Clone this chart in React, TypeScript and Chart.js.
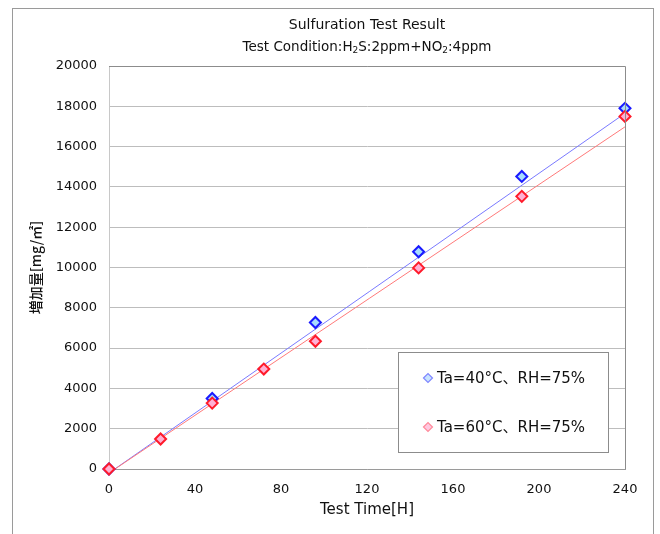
import React, { useEffect, useRef } from 'react';
import { Chart, registerables } from 'chart.js';

Chart.register(...registerables);

// ---- data ----
const hours40 = [0, 48, 96, 144, 192, 240];
const gain40 = [0, 3500, 7270, 10780, 14520, 17900];
const hours60 = [0, 24, 48, 72, 96, 144, 192, 240];
const gain60 = [0, 1490, 3270, 4960, 6340, 9980, 13530, 17500];
const trendHours = [0, 240];
const trend40 = [-200, 17650];
const trend60 = [-200, 16980];
const seriesLabels = ['Ta=40°C、RH=75%', 'Ta=60°C、RH=75%'];
const titleLine1 = 'Sulfuration Test Result';
// segments: [text, isSubscript]
const titleLine2: [string, boolean][] = [
  ['Test Condition:H', false],
  ['2', true],
  ['S:2ppm+NO', false],
  ['2', true],
  [':4ppm', false],
];
const yTitle = '増加量[mg/㎡]';
const xTitle = 'Test Time[H]';
const yMin = 0, yMax = 20000, yStep = 2000;
const xMin = 0, xMax = 240, xStep = 40;

const FONT = '"DejaVu Sans", "Noto Sans CJK JP", sans-serif';
const CJK = '"Noto Sans CJK JP", "DejaVu Sans", sans-serif';

const pts = (xs: number[], ys: number[]) => xs.map((x, i) => ({ x, y: ys[i] }));

const decorPlugin = {
  id: 'decor',
  beforeDraw(chart: any) {
    const ctx = chart.ctx;
    ctx.save();
    ctx.fillStyle = '#ffffff';
    ctx.fillRect(0, 0, chart.width, chart.height);
    ctx.strokeStyle = '#9a9a9a';
    ctx.lineWidth = 1;
    ctx.strokeRect(12.5, 8.5, 641, 560);
    ctx.restore();
  },
  afterDraw(chart: any) {
    const ctx = chart.ctx;
    const a = chart.chartArea;
    ctx.save();
    // top and right plot border
    ctx.strokeStyle = '#8c8c8c';
    ctx.lineWidth = 1;
    ctx.beginPath();
    ctx.moveTo(a.left, a.top + 0.5);
    ctx.lineTo(a.right + 0.5, a.top + 0.5);
    ctx.lineTo(a.right + 0.5, a.bottom);
    ctx.stroke();

    // titles
    const cx = (a.left + a.right) / 2;
    ctx.fillStyle = '#111';
    ctx.textBaseline = 'middle';
    ctx.textAlign = 'center';
    ctx.font = '14px ' + FONT;
    ctx.fillText(titleLine1, cx, 25);
    // second line with subscripts
    const big = '13.5px ' + FONT;
    const small = '9px ' + FONT;
    let total = 0;
    for (const [t, sub] of titleLine2) {
      ctx.font = sub ? small : big;
      total += ctx.measureText(t).width;
    }
    let x = cx - total / 2;
    ctx.textAlign = 'left';
    for (const [t, sub] of titleLine2) {
      ctx.font = sub ? small : big;
      ctx.fillText(t, x, sub ? 51 : 47);
      x += ctx.measureText(t).width;
    }

    // axis titles
    ctx.textAlign = 'center';
    ctx.font = '15px ' + FONT;
    ctx.fillText(xTitle, cx, 510);
    ctx.save();
    ctx.translate(36, (a.top + a.bottom) / 2);
    ctx.rotate(-Math.PI / 2);
    ctx.font = '500 14px ' + CJK;
    ctx.fillText(yTitle, 0, 0);
    ctx.restore();

    // legend box
    const lx = 398.5, ly = 352.5, lw = 210, lh = 100;
    ctx.fillStyle = '#ffffff';
    ctx.fillRect(lx, ly, lw, lh);
    ctx.strokeStyle = '#8c8c8c';
    ctx.strokeRect(lx, ly, lw, lh);
    const items = [
      { label: seriesLabels[0], stroke: '#7f86ff', fill: '#c8e4ff', y: 378 },
      { label: seriesLabels[1], stroke: '#ff8a9a', fill: '#ffc8e0', y: 427 },
    ];
    for (const it of items) {
      const mx = 428, my = it.y, r = 4.5;
      ctx.beginPath();
      ctx.moveTo(mx - r, my);
      ctx.lineTo(mx, my - r);
      ctx.lineTo(mx + r, my);
      ctx.lineTo(mx, my + r);
      ctx.closePath();
      ctx.fillStyle = it.fill;
      ctx.fill();
      ctx.strokeStyle = it.stroke;
      ctx.lineWidth = 1.2;
      ctx.stroke();
      ctx.fillStyle = '#111';
      ctx.textAlign = 'left';
      ctx.font = '15px ' + FONT;
      ctx.fillText(it.label, 437, my + 1);
    }
    ctx.restore();
  },
};

export default function App() {
  const ref = useRef<HTMLCanvasElement>(null);
  useEffect(() => {
    if (!ref.current) return;
    const chart = new Chart(ref.current, {
      type: 'scatter',
      data: {
        datasets: [
          {
            label: seriesLabels[1],
            data: pts(hours60, gain60),
            pointStyle: 'rectRot',
            pointRadius: 5.5,
            pointBorderWidth: 2,
            borderColor: '#ff1a2a',
            backgroundColor: '#ffb0d4',
            showLine: false,
            clip: false,
          } as any,
          {
            label: seriesLabels[0],
            data: pts(hours40, gain40),
            pointStyle: 'rectRot',
            pointRadius: 5.5,
            pointBorderWidth: 2,
            borderColor: '#1a1aff',
            backgroundColor: '#a8dcff',
            showLine: false,
            clip: false,
          } as any,
          {
            label: 'trend60',
            data: pts(trendHours, trend60),
            showLine: true,
            pointRadius: 0,
            borderColor: '#ff7a7a',
            borderWidth: 1,
          } as any,
          {
            label: 'trend40',
            data: pts(trendHours, trend40),
            showLine: true,
            pointRadius: 0,
            borderColor: '#7a7aff',
            borderWidth: 1,
          } as any,
        ],
      },
      options: {
        animation: false,
        responsive: false,
        devicePixelRatio: 1,
        layout: { padding: { top: 66, right: 35, bottom: 0, left: 0 } },
        plugins: {
          legend: { display: false },
          title: { display: false },
          tooltip: { enabled: false },
        },
        scales: {
          x: {
            type: 'linear',
            min: xMin,
            max: xMax,
            afterFit: (s: any) => { s.height = 65; },
            ticks: {
              stepSize: xStep,
              padding: 13,
              color: '#111',
              font: { family: FONT, size: 13 },
              callback: (v: any) => String(v),
            },
            grid: { display: false, drawTicks: false },
            border: { display: true, color: '#9a9a9a' },
          },
          y: {
            type: 'linear',
            min: yMin,
            max: yMax,
            afterFit: (s: any) => { s.width = 109; },
            ticks: {
              stepSize: yStep,
              padding: 12,
              color: '#111',
              font: { family: FONT, size: 13 },
              callback: (v: any) => String(v),
            },
            grid: { color: '#bdbdbd', drawTicks: false },
            border: { display: true, color: '#c8c8c8' },
          },
        },
      },
      plugins: [decorPlugin],
    });
    return () => chart.destroy();
  }, []);
  return (
    <div style={{ position: 'absolute', left: 0, top: 0, width: 660, height: 534 }}>
      <canvas ref={ref} width={660} height={534} />
    </div>
  );
}
